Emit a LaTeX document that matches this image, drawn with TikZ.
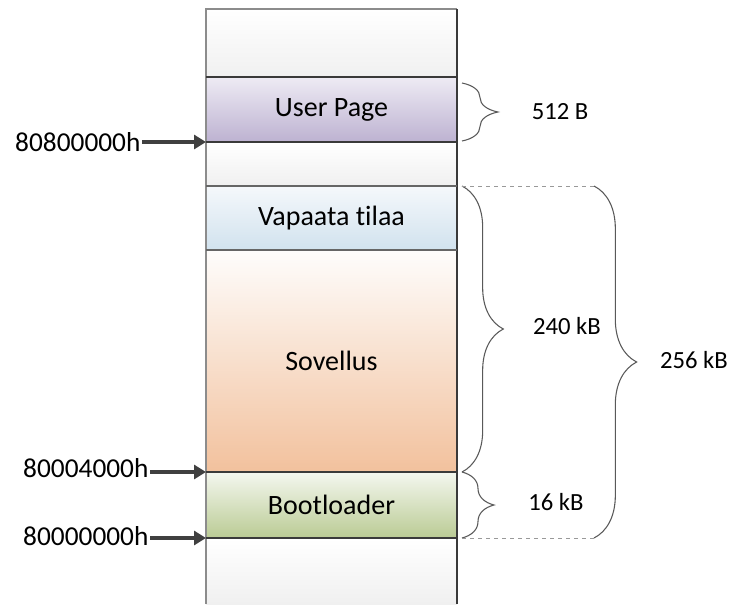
\documentclass[tikz,border=0pt]{standalone}
\usepackage{fontspec}
\setmainfont[Ligatures=NoCommon]{Carlito}
\usetikzlibrary{arrows.meta,decorations.pathreplacing,calc}
\definecolor{edgedark}{HTML}{3A3A3A}
\definecolor{edgegray}{HTML}{8C8C8C}
\definecolor{arrowgray}{HTML}{404040}
\definecolor{userT}{HTML}{EEEBF4}
\definecolor{userB}{HTML}{BDB2D1}
\definecolor{vapT}{HTML}{F5F8FB}
\definecolor{vapB}{HTML}{D1E2EE}
\definecolor{sovT}{HTML}{FEFDFC}
\definecolor{sovB}{HTML}{F2C19D}
\definecolor{bootT}{HTML}{F4F7EF}
\definecolor{bootB}{HTML}{BACB94}
\definecolor{grayB}{HTML}{F0F0F0}
\begin{document}
\begin{tikzpicture}[x=0.75pt,y=-0.75pt,
  seg/.style={rectangle,anchor=north west,inner sep=0pt,outer sep=0pt,
    minimum width=188.25pt,font=\fontsize{21}{24}\selectfont},
  grayseg/.style={seg,top color=white,bottom color=grayB},
  septhick/.style={draw=edgedark,line width=2.2pt},
  septhin/.style={draw=black!60,line width=1pt},
  addr/.style={font=\fontsize{20.5}{24}\selectfont,inner sep=1pt},
  sizelab/.style={font=\fontsize{18.5}{22}\selectfont},
  ptr/.style={draw=arrowgray,line width=2.3pt,-{Triangle[length=9pt,width=10.5pt]}},
  brc/.style={draw=black!65,line width=0.8pt,decorate},
  guide/.style={draw=black!40,dashed,line width=0.6pt}]
\useasboundingbox (0,0) rectangle (736,604);
% segments
\node[grayseg,minimum height=51pt] (top) at (206,9) {};
\node[seg,minimum height=48.75pt,top color=userT,bottom color=userB] (user) at (206,77) {User Page};
\node[grayseg,minimum height=33pt] (gap) at (206,142) {};
\node[seg,minimum height=48pt,top color=vapT,bottom color=vapB] (vap) at (206,186) {Vapaata tilaa};
\node[seg,minimum height=166.5pt,top color=sovT,bottom color=sovB] (sov) at (206,250) {Sovellus};
\node[seg,minimum height=49.5pt,top color=bootT,bottom color=bootB] (boot) at (206,472) {Bootloader};
\node[grayseg,minimum height=49.5pt] (bot) at (206,538) {};
% outline
\draw[edgegray,line width=0.8pt] (bot.south west) -- (top.north west) -- (top.north east);
\draw[edgedark,line width=2pt] (top.north east) -- (bot.south east);
% separators
\draw[septhick] (user.north west) -- (user.north east);
\draw[septhick] (user.south west) -- (user.south east);
\draw[septhin] (vap.north west) -- (vap.north east);
\draw[septhin] (vap.south west) -- (vap.south east);
\draw[septhick] (boot.north west) -- (boot.north east);
\draw[septhick] (boot.south west) -- (boot.south east);
% addresses
\node[addr,anchor=east] (a1) at (142,142) {80800000h};
\node[addr,anchor=east] (a2) at (150,468) {80004000h};
\node[addr,anchor=east] (a3) at (150,536) {80000000h};
\draw[ptr] (a1.east |- user.south west) -- (user.south west);
\draw[ptr] (a2.east |- boot.north west) -- (boot.north west);
\draw[ptr] (a3.east |- boot.south west) -- (boot.south west);
% braces
\coordinate (u1) at ($(user.north east)+(5,6)$);
\coordinate (u2) at ($(user.south east)+(5,-1)$);
\draw[brc,decoration={brace,amplitude=27pt}] (u1) -- (u2);
\node[sizelab] (l512) at (560,112) {512 B};
\coordinate (s1) at ($(vap.north east)+(5,0)$);
\coordinate (s2) at ($(sov.south east)+(5,0)$);
\draw[brc,decoration={brace,amplitude=31pt}] (s1) -- (s2);
\node[sizelab] (l240) at (567,326) {240 kB};
\coordinate (b2) at ($(boot.south east)+(5,0)$);
\draw[brc,decoration={brace,amplitude=24pt}] (s2) -- (b2);
\node[sizelab] (l16) at (556,502) {16 kB};
\coordinate (g1) at (594,186);
\coordinate (g2) at (594,538);
\draw[guide] (s1) -- (g1);
\draw[guide] (b2) -- (g2);
\draw[brc,decoration={brace,amplitude=32pt}] (g1) -- (g2);
\node[sizelab] (l256) at (694,360) {256 kB};
\end{tikzpicture}
\end{document}
